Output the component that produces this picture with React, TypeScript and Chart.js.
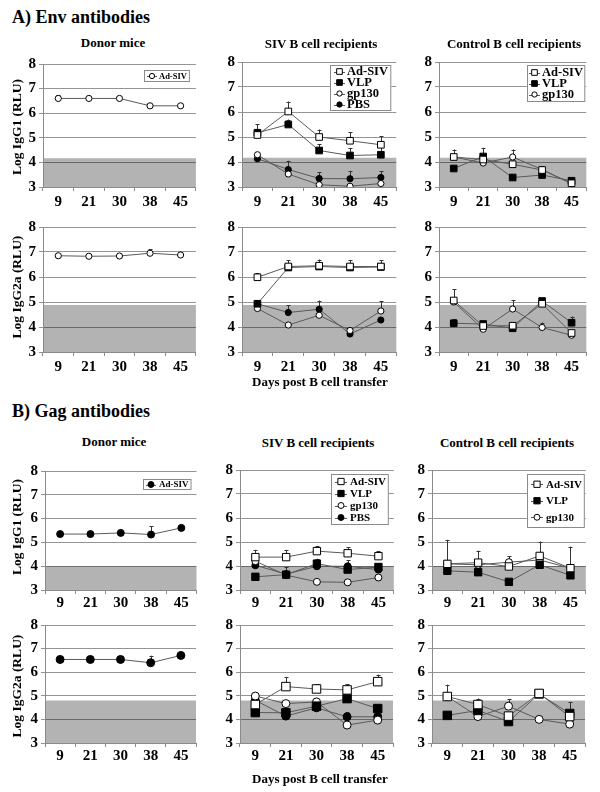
import React, { useEffect, useRef } from 'react';
import { Chart, registerables } from 'chart.js';

Chart.register(...registerables);

const SERIF = "'Liberation Serif', 'Times New Roman', serif";

// ---------- data ----------
const days = ['9', '21', '30', '38', '45'];
const yMin = 3;
const yMax = 8;

// cut-off (shaded background) per antibody read-out
const envG1Cutoff = 4.17;
const envG2aCutoff = 4.88;
const gagG1Cutoff = 4.0;
const gagG2aCutoff = 4.8;

// A) Env – IgG1
const envG1DonorAdSIV = [6.6, 6.6, 6.6, 6.3, 6.3];
const envG1DonorAdSIVErr = [0.12, 0, 0, 0, 0];
const envG1SivAdSIV = [5.08, 6.02, 5.0, 4.85, 4.69];
const envG1SivAdSIVErr = [0.05, 0.4, 0.3, 0.35, 0.35];
const envG1SivVLP = [5.17, 5.5, 4.46, 4.26, 4.29];
const envG1SivVLPErr = [0.35, 0.2, 0.25, 0.3, 0.3];
const envG1SivGp130 = [4.29, 3.52, 3.09, 3.03, 3.14];
const envG1SivGp130Err = [0, 0, 0, 0, 0];
const envG1SivPBS = [4.13, 3.7, 3.34, 3.33, 3.38];
const envG1SivPBSErr = [0, 0.35, 0.25, 0.3, 0.25];
const envG1CtlAdSIV = [4.2, 4.1, 3.91, 3.68, 3.15];
const envG1CtlAdSIVErr = [0.3, 0, 0, 0.15, 0];
const envG1CtlVLP = [3.74, 4.22, 3.38, 3.48, 3.25];
const envG1CtlVLPErr = [0, 0.35, 0, 0, 0];
const envG1CtlGp130 = [4.2, 3.96, 4.2, 3.7, 3.13];
const envG1CtlGp130Err = [0, 0, 0.3, 0, 0];

// A) Env – IgG2a
const envG2aDonorAdSIV = [6.85, 6.83, 6.84, 6.95, 6.88];
const envG2aDonorAdSIVErr = [0, 0, 0, 0.15, 0];
const envG2aSivAdSIV = [5.99, 6.42, 6.45, 6.42, 6.42];
const envG2aSivAdSIVErr = [0.15, 0.25, 0.25, 0.25, 0.25];
const envG2aSivVLP = [4.93, 6.38, 6.42, 6.38, 6.4];
const envG2aSivVLPErr = [0, 0, 0, 0, 0];
const envG2aSivGp130 = [4.74, 4.08, 4.47, 3.86, 4.64];
const envG2aSivGp130Err = [0, 0, 0, 0, 0.4];
const envG2aSivPBS = [4.93, 4.58, 4.71, 3.72, 4.28];
const envG2aSivPBSErr = [0.1, 0.3, 0.35, 0.2, 0];
const envG2aCtlAdSIV = [5.06, 4.04, 4.05, 4.93, 3.76];
const envG2aCtlAdSIVErr = [0.45, 0, 0, 0, 0];
const envG2aCtlVLP = [4.15, 4.12, 3.95, 5.04, 4.17];
const envG2aCtlVLPErr = [0.15, 0.1, 0.1, 0, 0.25];
const envG2aCtlGp130 = [5.0, 3.91, 4.72, 3.98, 3.67];
const envG2aCtlGp130Err = [0, 0, 0.35, 0.2, 0];

// B) Gag – IgG1
const gagG1DonorAdSIV = [5.35, 5.35, 5.4, 5.33, 5.61];
const gagG1DonorAdSIVErr = [0, 0, 0, 0.35, 0];
const gagG1SivAdSIV = [4.37, 4.37, 4.62, 4.53, 4.41];
const gagG1SivAdSIVErr = [0.3, 0.3, 0.2, 0.25, 0.2];
const gagG1SivVLP = [3.55, 3.64, 4.1, 3.85, 3.96];
const gagG1SivVLPErr = [0, 0, 0.2, 0, 0];
const gagG1SivGp130 = [4.2, 3.62, 3.34, 3.32, 3.52];
const gagG1SivGp130Err = [0, 0, 0, 0, 0];
const gagG1SivPBS = [4.03, 3.66, 3.99, 3.99, 3.85];
const gagG1SivPBSErr = [0.1, 0.3, 0, 0.25, 0.15];
const gagG1CtlAdSIV = [4.09, 4.14, 3.98, 4.42, 3.91];
const gagG1CtlAdSIVErr = [1.0, 0.5, 0, 0.6, 0.9];
const gagG1CtlVLP = [3.8, 3.74, 3.34, 4.05, 3.61];
const gagG1CtlVLPErr = [0, 0, 0, 0, 0];
const gagG1CtlGp130 = [4.09, 4.05, 4.16, 4.25, 3.91];
const gagG1CtlGp130Err = [0, 0, 0.25, 0, 0];

// B) Gag – IgG2a
const gagG2aDonorAdSIV = [6.54, 6.54, 6.54, 6.4, 6.71];
const gagG2aDonorAdSIVErr = [0, 0, 0, 0.3, 0];
const gagG2aSivAdSIV = [4.63, 5.39, 5.29, 5.25, 5.6];
const gagG2aSivAdSIVErr = [0, 0.4, 0.2, 0.25, 0.3];
const gagG2aSivVLP = [4.29, 4.28, 4.56, 4.88, 4.46];
const gagG2aSivVLPErr = [0, 0, 0, 0, 0];
const gagG2aSivGp130 = [4.99, 4.67, 4.74, 3.76, 3.97];
const gagG2aSivGp130Err = [0, 0, 0, 0, 0];
const gagG2aSivPBS = [4.81, 4.14, 4.49, 4.11, 4.11];
const gagG2aSivPBSErr = [0, 0, 0, 0.2, 0];
const gagG2aCtlAdSIV = [4.97, 4.63, 4.14, 5.1, 4.12];
const gagG2aCtlAdSIVErr = [0.5, 0.25, 0, 0, 0.6];
const gagG2aCtlVLP = [4.17, 4.38, 3.91, 5.08, 4.25];
const gagG2aCtlVLPErr = [0, 0, 0, 0.2, 0];
const gagG2aCtlGp130 = [4.97, 4.12, 4.56, 4.0, 3.8];
const gagG2aCtlGp130Err = [0, 0, 0.3, 0, 0];

// ---------- styles ----------
const GRID = 'rgba(0,0,0,0.42)';
const AXIS = '#8a8a8a';
const SHADE = '#b3b3b3';
const LINE = '#5a5a5a';
const Y_AXIS_W = 26;
const X_AXIS_H = 28;
const PAD_TOP = 10;
const PAD_RIGHT = 4;

type Kind = 'oSq' | 'fSq' | 'oCi' | 'fCi';
const kindStyle: Record<Kind, { shape: string; fill: string }> = {
  oSq: { shape: 'rect', fill: '#ffffff' },
  fSq: { shape: 'rect', fill: '#000000' },
  oCi: { shape: 'circle', fill: '#ffffff' },
  fCi: { shape: 'circle', fill: '#000000' },
};

type Series = { label: string; data: number[]; err: number[]; kind: Kind };
const S = (label: string, data: number[], err: number[], kind: Kind): Series => ({ label, data, err, kind });

type LegendCfg = {
  right: number; top: number; size: number; rowH: number; padY: number;
  padL: number; lineLen: number; gap: number; padR: number;
};

type PanelCfg = {
  key: string; left: number; right: number; top: number; bottom: number;
  xPad: number; cutoff: number; sq: number; ci: number;
  series: Series[]; legend?: LegendCfg;
};

const rowA1 = { top: 61, bottom: 187, xPad: 2, cutoff: envG1Cutoff, sq: 4.7, ci: 3.1 };
const rowA2 = { top: 225, bottom: 352, xPad: 2, cutoff: envG2aCutoff, sq: 4.7, ci: 3.1 };
const rowB1 = { top: 468, bottom: 590, xPad: 0, cutoff: gagG1Cutoff, sq: 5.2, ci: 3.5 };
const rowB2 = { top: 623, bottom: 743, xPad: 0, cutoff: gagG2aCutoff, sq: 6.0, ci: 4.0 };

const panels: PanelCfg[] = [
  {
    key: 'a1d', left: 43, right: 196, ...rowA1, top: 62,
    series: [S('Ad-SIV', envG1DonorAdSIV, envG1DonorAdSIVErr, 'oCi')],
    legend: { right: 6, top: 6, size: 8.5, rowH: 11, padY: 0.5, padL: 3, lineLen: 10, gap: 2, padR: 3 },
  },
  {
    key: 'a1s', left: 242, right: 398, ...rowA1, top: 60,
    series: [
      S('Ad-SIV', envG1SivAdSIV, envG1SivAdSIVErr, 'oSq'),
      S('VLP', envG1SivVLP, envG1SivVLPErr, 'fSq'),
      S('gp130', envG1SivGp130, envG1SivGp130Err, 'oCi'),
      S('PBS', envG1SivPBS, envG1SivPBSErr, 'fCi'),
    ],
    legend: { right: 5, top: 3, size: 12.5, rowH: 11, padY: 1, padL: 4, lineLen: 11, gap: 2, padR: 3 },
  },
  {
    key: 'a1c', left: 439, right: 588, ...rowA1, top: 60,
    series: [
      S('Ad-SIV', envG1CtlAdSIV, envG1CtlAdSIVErr, 'oSq'),
      S('VLP', envG1CtlVLP, envG1CtlVLPErr, 'fSq'),
      S('gp130', envG1CtlGp130, envG1CtlGp130Err, 'oCi'),
    ],
    legend: { right: 1, top: 3, size: 12.5, rowH: 11, padY: 2, padL: 2, lineLen: 11, gap: 2, padR: 2 },
  },
  {
    key: 'a2d', left: 43, right: 196, ...rowA2,
    series: [S('Ad-SIV', envG2aDonorAdSIV, envG2aDonorAdSIVErr, 'oCi')],
  },
  {
    key: 'a2s', left: 242, right: 398, ...rowA2,
    series: [
      S('Ad-SIV', envG2aSivAdSIV, envG2aSivAdSIVErr, 'oSq'),
      S('VLP', envG2aSivVLP, envG2aSivVLPErr, 'fSq'),
      S('gp130', envG2aSivGp130, envG2aSivGp130Err, 'oCi'),
      S('PBS', envG2aSivPBS, envG2aSivPBSErr, 'fCi'),
    ],
  },
  {
    key: 'a2c', left: 439, right: 588, ...rowA2,
    series: [
      S('Ad-SIV', envG2aCtlAdSIV, envG2aCtlAdSIVErr, 'oSq'),
      S('VLP', envG2aCtlVLP, envG2aCtlVLPErr, 'fSq'),
      S('gp130', envG2aCtlGp130, envG2aCtlGp130Err, 'oCi'),
    ],
  },
  {
    key: 'b1d', left: 45, right: 197, ...rowB1, top: 469,
    series: [S('Ad-SIV', gagG1DonorAdSIV, gagG1DonorAdSIVErr, 'fCi')],
    legend: { right: 5, top: 8, size: 9, rowH: 10, padY: 0.5, padL: 3, lineLen: 10, gap: 3, padR: 3 },
  },
  {
    key: 'b1s', left: 240, right: 396, ...rowB1,
    series: [
      S('Ad-SIV', gagG1SivAdSIV, gagG1SivAdSIVErr, 'oSq'),
      S('VLP', gagG1SivVLP, gagG1SivVLPErr, 'fSq'),
      S('gp130', gagG1SivGp130, gagG1SivGp130Err, 'oCi'),
      S('PBS', gagG1SivPBS, gagG1SivPBSErr, 'fCi'),
    ],
    legend: { right: 5, top: 4, size: 11, rowH: 12, padY: 1.5, padL: 4, lineLen: 12, gap: 3, padR: 3 },
  },
  {
    key: 'b1c', left: 432, right: 588, ...rowB1,
    series: [
      S('Ad-SIV', gagG1CtlAdSIV, gagG1CtlAdSIVErr, 'oSq'),
      S('VLP', gagG1CtlVLP, gagG1CtlVLPErr, 'fSq'),
      S('gp130', gagG1CtlGp130, gagG1CtlGp130Err, 'oCi'),
    ],
    legend: { right: 1, top: 4, size: 11, rowH: 16.5, padY: 2, padL: 4, lineLen: 12, gap: 3, padR: 3 },
  },
  {
    key: 'b2d', left: 45, right: 197, ...rowB2,
    series: [S('Ad-SIV', gagG2aDonorAdSIV, gagG2aDonorAdSIVErr, 'fCi')],
  },
  {
    key: 'b2s', left: 240, right: 396, ...rowB2,
    series: [
      S('Ad-SIV', gagG2aSivAdSIV, gagG2aSivAdSIVErr, 'oSq'),
      S('VLP', gagG2aSivVLP, gagG2aSivVLPErr, 'fSq'),
      S('gp130', gagG2aSivGp130, gagG2aSivGp130Err, 'oCi'),
      S('PBS', gagG2aSivPBS, gagG2aSivPBSErr, 'fCi'),
    ],
  },
  {
    key: 'b2c', left: 432, right: 588, ...rowB2,
    series: [
      S('Ad-SIV', gagG2aCtlAdSIV, gagG2aCtlAdSIVErr, 'oSq'),
      S('VLP', gagG2aCtlVLP, gagG2aCtlVLPErr, 'fSq'),
      S('gp130', gagG2aCtlGp130, gagG2aCtlGp130Err, 'oCi'),
    ],
  },
];

// ---------- plugins ----------
const shadePlugin = {
  id: 'shade',
  beforeDraw(chart: any, _args: any, opts: any) {
    const { ctx, chartArea: a, scales } = chart;
    const y = scales.y;
    const top = y.getPixelForValue(opts.top);
    const bottom = y.getPixelForValue(yMin);
    ctx.save();
    ctx.fillStyle = SHADE;
    ctx.fillRect(a.left, top, a.right - a.left, bottom - top);
    ctx.restore();
  },
};

const errPlugin = {
  id: 'errBars',
  beforeDatasetsDraw(chart: any) {
    const ctx = chart.ctx;
    const y = chart.scales.y;
    chart.data.datasets.forEach((ds: any, i: number) => {
      const err = ds.errUp as number[] | undefined;
      if (!err) return;
      const meta = chart.getDatasetMeta(i);
      meta.data.forEach((pt: any, j: number) => {
        const e = err[j];
        if (!e) return;
        const yt = y.getPixelForValue(ds.data[j] + e);
        const x = Math.round(pt.x) + 0.5;
        ctx.save();
        ctx.strokeStyle = '#333';
        ctx.lineWidth = 1;
        ctx.beginPath();
        ctx.moveTo(x, pt.y);
        ctx.lineTo(x, yt);
        ctx.moveTo(x - 2, Math.round(yt) + 0.5);
        ctx.lineTo(x + 2, Math.round(yt) + 0.5);
        ctx.stroke();
        ctx.restore();
      });
    });
  },
};

function drawMarker(ctx: CanvasRenderingContext2D, shape: string, x: number, y: number, r: number, fill: string) {
  ctx.beginPath();
  if (shape === 'rect') {
    const s = r * Math.SQRT1_2;
    ctx.rect(x - s, y - s, 2 * s, 2 * s);
  } else {
    ctx.arc(x, y, r, 0, Math.PI * 2);
  }
  ctx.fillStyle = fill;
  ctx.fill();
  ctx.strokeStyle = '#000';
  ctx.lineWidth = 1;
  ctx.stroke();
}

const boxLegendPlugin = {
  id: 'boxLegend',
  afterDraw(chart: any, _args: any, o: any) {
    if (!o || !o.size) return;
    const ctx: CanvasRenderingContext2D = chart.ctx;
    const a = chart.chartArea;
    const dsets = chart.data.datasets;
    ctx.save();
    ctx.font = `bold ${o.size}px ${SERIF}`;
    const tw = Math.max(...dsets.map((d: any) => ctx.measureText(d.label).width));
    const w = o.padL + o.lineLen + o.gap + tw + o.padR;
    const h = o.rowH * dsets.length + o.padY * 2;
    const right = a.right - o.right;
    const left = Math.round(right - w);
    const top = Math.round(a.top + o.top);
    ctx.fillStyle = '#fff';
    ctx.fillRect(left, top, right - left, h);
    ctx.strokeStyle = '#8a8a8a';
    ctx.lineWidth = 1;
    ctx.strokeRect(left + 0.5, top + 0.5, right - left - 1, Math.round(h) - 1);
    dsets.forEach((d: any, i: number) => {
      const cy = top + o.padY + o.rowH * (i + 0.5);
      const x0 = left + o.padL;
      const x1 = x0 + o.lineLen;
      ctx.strokeStyle = LINE;
      ctx.beginPath();
      ctx.moveTo(x0, Math.round(cy) + 0.5);
      ctx.lineTo(x1, Math.round(cy) + 0.5);
      ctx.stroke();
      drawMarker(ctx, d.pointStyle, (x0 + x1) / 2, cy, d.pointRadius * 0.85, d.pointBackgroundColor);
      ctx.fillStyle = '#000';
      ctx.textBaseline = 'middle';
      ctx.textAlign = 'left';
      ctx.fillText(d.label, x1 + o.gap, cy + 0.5);
    });
    ctx.restore();
  },
};

// ---------- components ----------
function Panel({ p }: { p: PanelCfg }) {
  const ref = useRef<HTMLCanvasElement>(null);
  const plotW = p.right - p.left;
  const plotH = p.bottom - p.top;
  const cw = Y_AXIS_W + plotW + PAD_RIGHT;
  const ch = PAD_TOP + plotH + X_AXIS_H;
  const cl = p.left - Y_AXIS_W;
  const ct = p.top - PAD_TOP;

  useEffect(() => {
    if (!ref.current) return;
    const tickFont = { family: SERIF, size: 15, weight: 'bold' as const };
    const chart = new Chart(ref.current, {
      type: 'line',
      data: {
        labels: days,
        datasets: p.series.map((s) => {
          const k = kindStyle[s.kind];
          return {
            label: s.label,
            data: s.data,
            errUp: s.err,
            borderColor: LINE,
            borderWidth: 1,
            pointStyle: k.shape,
            pointRadius: k.shape === 'rect' ? p.sq : p.ci,
            pointHoverRadius: k.shape === 'rect' ? p.sq : p.ci,
            pointBackgroundColor: k.fill,
            pointBorderColor: '#000',
            pointBorderWidth: 1,
            tension: 0,
            fill: false,
          } as any;
        }),
      },
      options: {
        responsive: false,
        animation: false,
        devicePixelRatio: 1,
        events: [],
        layout: { padding: { top: PAD_TOP, right: PAD_RIGHT, left: 0, bottom: 0 } },
        plugins: {
          legend: { display: false },
          tooltip: { enabled: false },
          shade: { top: p.cutoff },
          boxLegend: p.legend || {},
        } as any,
        scales: {
          x: {
            type: 'category',
            offset: true,
            grid: { display: true, drawOnChartArea: false, drawTicks: true, tickLength: 4, offset: true, color: AXIS },
            border: { display: true, color: AXIS },
            ticks: { font: tickFont, color: '#000', padding: p.xPad, maxRotation: 0, autoSkip: false },
            afterFit: (s: any) => { s.height = X_AXIS_H; },
          },
          y: {
            min: yMin,
            max: yMax,
            ticks: { stepSize: 1, font: tickFont, color: '#000', padding: 3 },
            grid: { color: GRID, drawTicks: true, tickLength: 4 },
            border: { display: true, color: AXIS },
            afterFit: (s: any) => { s.width = Y_AXIS_W; },
          },
        },
      },
      plugins: [shadePlugin, errPlugin, boxLegendPlugin],
    });
    return () => chart.destroy();
  }, []);

  return (
    <canvas
      ref={ref}
      width={cw}
      height={ch}
      style={{ position: 'absolute', left: cl, top: ct, width: cw, height: ch }}
    />
  );
}

function Txt({ x, top, size, center, children }: { x: number; top: number; size: number; center?: boolean; children: React.ReactNode }) {
  return (
    <div
      style={{
        position: 'absolute', left: x, top, fontSize: size, lineHeight: 1, whiteSpace: 'nowrap',
        transform: center ? 'translateX(-50%)' : undefined,
      }}
    >
      {children}
    </div>
  );
}

function VTxt({ cx, cy, size, children }: { cx: number; cy: number; size: number; children: React.ReactNode }) {
  return (
    <div
      style={{
        position: 'absolute', left: cx, top: cy, fontSize: size, lineHeight: 1, whiteSpace: 'nowrap',
        transform: 'translate(-50%, -50%) rotate(-90deg)',
      }}
    >
      {children}
    </div>
  );
}

export default function App() {
  return (
    <div
      style={{
        position: 'absolute', left: 0, top: 0, width: 600, height: 792, background: '#fff',
        fontFamily: SERIF, fontWeight: 'bold', color: '#000', overflow: 'hidden',
      }}
    >
      {panels.map((p) => <Panel key={p.key} p={p} />)}

      <Txt x={12} top={8} size={18}>A) Env antibodies</Txt>
      <Txt x={12} top={402} size={18}>B) Gag antibodies</Txt>

      <Txt x={113} top={36} size={13} center>Donor mice</Txt>
      <Txt x={321} top={37} size={13} center>SIV B cell recipients</Txt>
      <Txt x={514} top={37} size={13} center>Control B cell recipients</Txt>

      <Txt x={114} top={435} size={13} center>Donor mice</Txt>
      <Txt x={318} top={436} size={13} center>SIV B cell recipients</Txt>
      <Txt x={507} top={436} size={13} center>Control B cell recipients</Txt>

      <VTxt cx={17} cy={127} size={13.5}>Log IgG1 (RLU)</VTxt>
      <VTxt cx={17} cy={287} size={13.5}>Log IgG2a (RLU)</VTxt>
      <VTxt cx={17} cy={527} size={13.5}>Log IgG1 (RLU)</VTxt>
      <VTxt cx={17} cy={686} size={13.5}>Log IgG2a (RLU)</VTxt>

      <Txt x={320} top={375} size={13} center>Days post B cell transfer</Txt>
      <Txt x={320} top={772} size={13} center>Days post B cell transfer</Txt>
    </div>
  );
}
